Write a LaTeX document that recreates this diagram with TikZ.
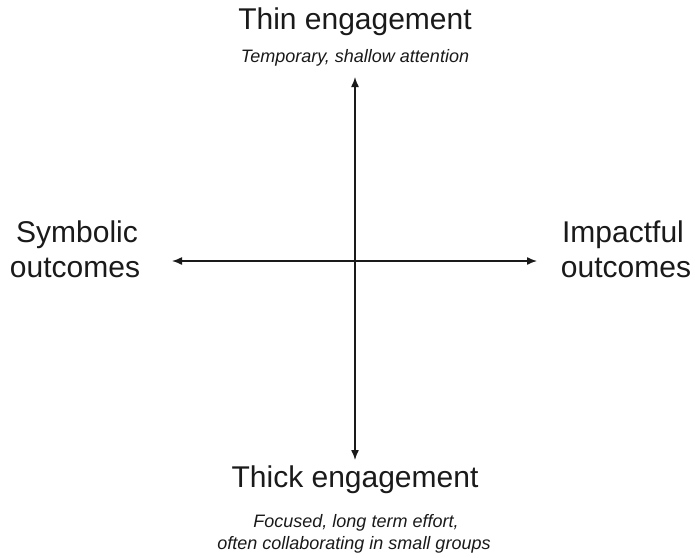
\documentclass[tikz,border=0pt]{standalone}
\usepackage{fontspec}
\setmainfont{Liberation Sans}
\usetikzlibrary{arrows.meta}
\definecolor{ink}{HTML}{1A1A1A}
\tikzset{
  big/.style={font=\fontsize{30}{35}\selectfont, text=ink, anchor=base, inner sep=0pt},
  small/.style={font=\fontsize{18}{22}\selectfont\itshape, text=ink, anchor=base, inner sep=0pt},
  axis/.style={draw=ink, line width=1.4pt, {Latex[length=10pt,width=8pt]}-{Latex[length=10pt,width=8pt]}}
}
\begin{document}
\begin{tikzpicture}[x=1pt,y=-1pt]
\useasboundingbox[fill=white] (0,0) rectangle (695,557);
\coordinate (top) at (355,77);
\coordinate (bottom) at (355,460);
\coordinate (left) at (172,261);
\coordinate (right) at (537,261);
\draw[axis] (top) -- (bottom);
\draw[axis] (left) -- (right);
\node[big] (thin) at (355,29) {Thin engagement};
\node[small] (thinsub) at (355,62) {Temporary, shallow attention};
\node[big] (thick) at (355,487) {Thick engagement};
\node[small] (thicksubA) at (356,527) {Focused, long term effort,};
\node[small] (thicksubB) at (354,549) {often collaborating in small groups};
\node[big] (symA) at (77,242) {Symbolic};
\node[big] (symB) at (75,277) {outcomes};
\node[big] (impA) at (623,242) {Impactful};
\node[big] (impB) at (626,277) {outcomes};
\end{tikzpicture}
\end{document}
